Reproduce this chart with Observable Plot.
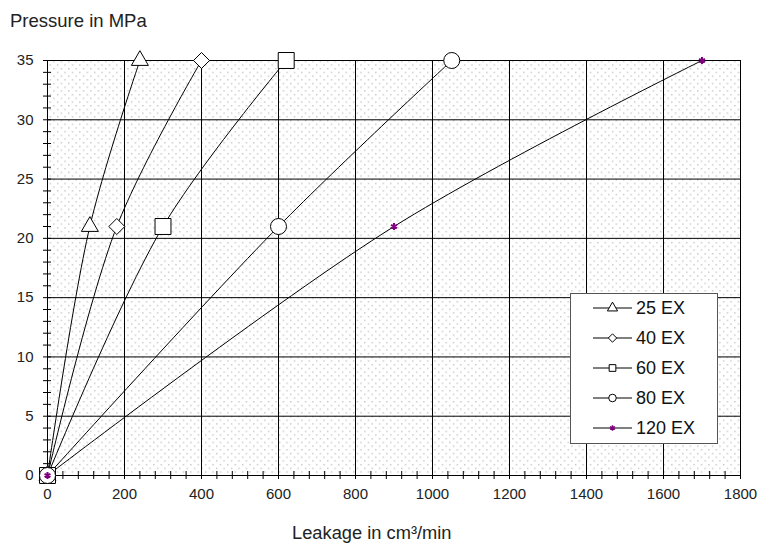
<!DOCTYPE html>
<html><head><meta charset="utf-8">
<script src="https://cdn.jsdelivr.net/npm/d3@7"></script>
<script src="https://cdn.jsdelivr.net/npm/@observablehq/plot@0.6"></script>
<style>
body{margin:0;background:#fff;font-family:"Liberation Sans",Arial,sans-serif;}
#wrap{position:relative;width:760px;height:543px;overflow:hidden}
#title{position:absolute;left:10px;top:10px;font-size:18.5px;color:#222;white-space:nowrap}
#xlabel{position:absolute;left:292px;top:522px;font-size:18.3px;color:#222;white-space:nowrap}
#legend{position:absolute;left:570px;top:293px;width:148px;height:151px;background:#fff;border:1px solid #555;box-sizing:border-box}
</style></head>
<body><div id="wrap"><div id="title">Pressure in MPa</div><div id="xlabel">Leakage in cm³/min</div></div>
<script>
// ---- data ----
const seriesNames = ["25 EX", "40 EX", "60 EX", "80 EX", "120 EX"];
const pressure = [0, 21, 35];
const leak25 = [0, 110, 240];
const leak40 = [0, 180, 400];
const leak60 = [0, 300, 620];
const leak80 = [0, 600, 1050];
const leak120 = [0, 900, 1700];
const xTicks = [0, 200, 400, 600, 800, 1000, 1200, 1400, 1600, 1800];
const yTicks = [0, 5, 10, 15, 20, 25, 30, 35];

const leaks = [leak25, leak40, leak60, leak80, leak120];
const rows = seriesNames.flatMap((s, k) => pressure.map((p, i) => ({series: s, leak: leaks[k][i], p})));
const style = {
  "25 EX": {symbol: "triangle", r: 6.3, stroke: "black", fill: "white", sw: 1},
  "40 EX": {symbol: "diamond2", r: 7.2, stroke: "black", fill: "white", sw: 1},
  "60 EX": {symbol: "square", r: 9, stroke: "black", fill: "white", sw: 1},
  "80 EX": {symbol: "circle", r: 8, stroke: "black", fill: "white", sw: 1},
  "120 EX": {symbol: "asterisk", r: 3.2, stroke: "#800080", fill: "none", sw: 2}
};
const minorX = d3.range(0, 1801, 40);
const minorY = d3.range(0, 36, 1);

const marks = [
  Plot.frame({fill: "url(#dots)", stroke: "none"}),
  Plot.gridX(xTicks, {stroke: "black", strokeOpacity: 1}),
  Plot.gridY(yTicks, {stroke: "black", strokeOpacity: 1}),
  Plot.frame({stroke: "black"}),
  Plot.ruleX(minorX, {x: d => d, y1: 0, y2: 0, insetTop: -4, insetBottom: -4, stroke: "black"}),
  Plot.ruleY(minorY, {y: d => d, x1: 0, x2: 0, insetLeft: -4, insetRight: -4, stroke: "black"}),
  Plot.axisX({ticks: xTicks, tickSize: 0, tickPadding: 13, fontSize: 15, tickFormat: d => String(d), label: null, fill: "#222"}),
  Plot.axisY({ticks: yTicks, tickSize: 0, tickPadding: 14, fontSize: 15, tickFormat: d => String(d), label: null, fill: "#222"})
];
for (const s of seriesNames) {
  const d = rows.filter(r => r.series === s);
  marks.push(Plot.line(d, {x: "leak", y: "p", curve: "catmull-rom", stroke: "black", strokeWidth: 1}));
}
for (const s of seriesNames) {
  const d = rows.filter(r => r.series === s);
  const st = style[s];
  marks.push(Plot.dot(d, {x: "leak", y: "p", symbol: st.symbol, r: st.r, fill: st.fill, stroke: st.stroke, strokeWidth: st.sw}));
}

const chart = Plot.plot({
  width: 760, height: 543,
  marginTop: 60, marginLeft: 47, marginRight: 20, marginBottom: 68,
  style: {fontFamily: "'Liberation Sans', Arial, sans-serif", fontSize: "15px", background: "transparent"},
  x: {domain: [0, 1800]},
  y: {domain: [0, 35]},
  marks
});
const svgSel = d3.select(chart);
svgSel.selectAll("g[aria-label$='tick label']").attr("font-size", 15).style("font-size", "15px")
  .selectAll("text").attr("font-size", null);
const pat = svgSel.insert("defs", ":first-child").append("pattern")
  .attr("id", "dots").attr("patternUnits", "userSpaceOnUse")
  .attr("width", 7.4).attr("height", 7.4);
pat.append("rect").attr("width", 7.4).attr("height", 7.4).attr("fill", "white");
pat.append("rect").attr("x", 1).attr("y", 1).attr("width", 1.3).attr("height", 1.3).attr("fill", "#bcbcbc");
pat.append("rect").attr("x", 4.7).attr("y", 4.7).attr("width", 1.3).attr("height", 1.3).attr("fill", "#bcbcbc");
chart.style.position = "absolute"; chart.style.left = "0"; chart.style.top = "0";
const wrap = document.getElementById("wrap");
wrap.prepend(chart);

// legend
const leg = document.createElement("div"); leg.id = "legend"; wrap.appendChild(leg);
const lsvg = d3.select(leg).append("svg").attr("width", 148).attr("height", 151)
  .style("position", "absolute").style("left", "-1px").style("top", "-1px");
const symMap = {triangle: d3.symbolTriangle, diamond2: d3.symbolDiamond2, square: d3.symbolSquare, circle: d3.symbolCircle, asterisk: d3.symbolAsterisk};
seriesNames.forEach((s, i) => {
  const y = 15 + i * 30;
  const g = lsvg.append("g").attr("transform", `translate(0,${y})`);
  g.append("line").attr("x1", 23).attr("x2", 62).attr("y1", 0).attr("y2", 0).attr("stroke", "black");
  const st = style[s];
  g.append("path").attr("transform", "translate(42.5,0)")
    .attr("d", d3.symbol(symMap[st.symbol], s === "120 EX" ? 22 : 45)())
    .attr("fill", st.fill).attr("stroke", st.stroke).attr("stroke-width", s === "120 EX" ? 1.6 : 1);
  g.append("text").attr("x", 66).attr("y", 0).attr("dy", "0.35em").attr("font-size", 18)
    .attr("font-family", "'Liberation Sans', Arial, sans-serif").attr("fill", "#111").text(s);
});
</script>
</body></html>
